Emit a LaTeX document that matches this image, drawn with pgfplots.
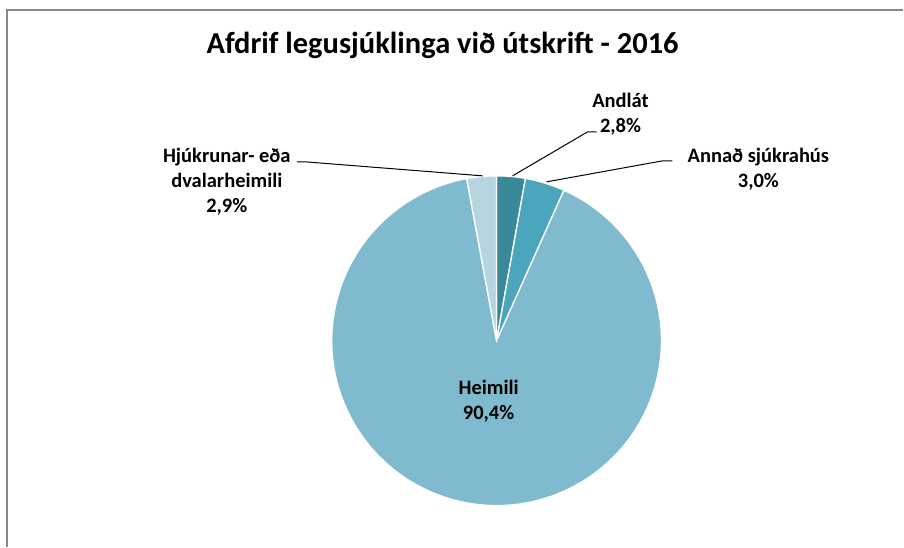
\documentclass[border=0pt]{standalone}
\usepackage{pgfplots}
\pgfplotsset{compat=1.18}
\usepackage{pgfplotstable}
\usepackage{fontspec}
\setmainfont{Carlito}
\definecolor{cA}{RGB}{58,137,155}
\definecolor{cB}{RGB}{75,165,188}
\definecolor{cC}{RGB}{127,186,207}
\definecolor{cD}{RGB}{182,213,224}
\definecolor{frame}{RGB}{136,136,136}

% slice sizes (percent of the circle), clockwise from the top
\pgfplotstableread{
label value
Andlat 2.8
Annad 3.9
Heimili 90.4
Hjukrunar 2.9
}\piedata
\pgfplotstablegetelem{0}{value}\of\piedata \let\vA\pgfplotsretval
\pgfplotstablegetelem{1}{value}\of\piedata \let\vB\pgfplotsretval
\pgfplotstablegetelem{2}{value}\of\piedata \let\vC\pgfplotsretval
\pgfplotstablegetelem{3}{value}\of\piedata \let\vD\pgfplotsretval
\pgfmathsetmacro\aA{3.6*\vA}
\pgfmathsetmacro\aB{\aA+3.6*\vB}
\pgfmathsetmacro\aC{\aB+3.6*\vC}
\pgfmathsetmacro\aD{\aC+3.6*\vD}

\begin{document}
\begin{tikzpicture}
\begin{axis}[
  x=1pt, y=1pt,
  xmin=0, xmax=904, ymin=0, ymax=547,
  y dir=reverse,
  hide axis, clip=false,
]
\path (axis cs:0,0) rectangle (axis cs:904,547);
% chart frame
\addplot[frame, line width=1.5pt] coordinates {(7,547) (7,10) (904,10)};
% slices
\addplot[cA, fill=cA, draw=white, line width=1.3pt, domain=0:\aA, samples=20, variable=\t]
  ({497+165*sin(\t)},{341-165*cos(\t)}) -- (axis cs:497,341) -- cycle;
\addplot[cB, fill=cB, draw=white, line width=1.3pt, domain=\aA:\aB, samples=20, variable=\t]
  ({497+165*sin(\t)},{341-165*cos(\t)}) -- (axis cs:497,341) -- cycle;
\addplot[cC, fill=cC, draw=white, line width=1.3pt, domain=\aB:\aC, samples=150, variable=\t]
  ({497+165*sin(\t)},{341-165*cos(\t)}) -- (axis cs:497,341) -- cycle;
\addplot[cD, fill=cD, draw=white, line width=1.3pt, domain=\aC:\aD, samples=20, variable=\t]
  ({497+165*sin(\t)},{341-165*cos(\t)}) -- (axis cs:497,341) -- cycle;
% leader lines
\addplot[black, line width=1pt] coordinates {(597,132) (588,132) (513,176)};
\addplot[black, line width=1pt] coordinates {(673,161) (663,161) (547,182)};
\addplot[black, line width=1pt] coordinates {(297,162) (306,162) (483,176)};
% texts
\node[font=\fontsize{30.5}{36}\selectfont\bfseries] at (axis cs:443,45) {Afdrif legusjúklinga við útskrift - 2016};
\node[font=\fontsize{20.5}{25}\selectfont\bfseries, align=center] at (axis cs:621,114) {Andlát\\2,8\%};
\node[font=\fontsize{20.5}{25}\selectfont\bfseries, align=center] at (axis cs:759,169) {Annað sjúkrahús\\3,0\%};
\node[font=\fontsize{20.5}{25}\selectfont\bfseries, align=center] at (axis cs:227,182) {Hjúkrunar- eða\\dvalarheimili\\2,9\%};
\node[font=\fontsize{20.5}{25}\selectfont\bfseries, align=center] at (axis cs:489,402) {Heimili\\90,4\%};
\end{axis}
\end{tikzpicture}
\end{document}
